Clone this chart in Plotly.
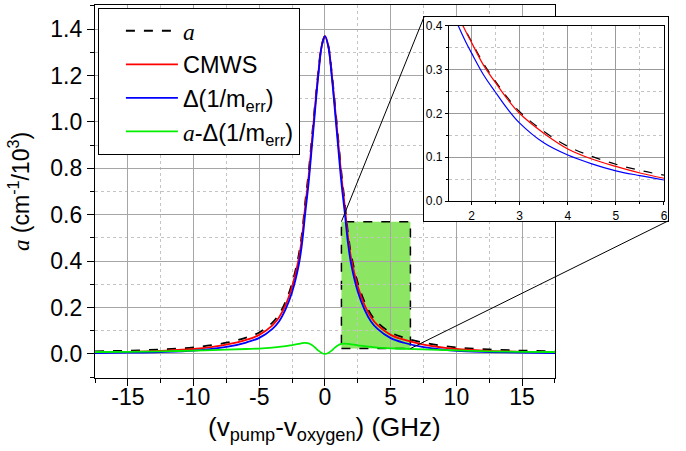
import plotly.graph_objects as go

# ---------------- data ----------------
x_main = [-17.5, -15, -12.5, -10, -7.5, -6, -5, -4, -3.5, -3, -2.5, -2, -1.75, -1.5, -1.25, -1,
          -0.75, -0.5, -0.25, 0, 0.25, 0.5, 0.75, 1, 1.25, 1.5, 1.75, 2, 2.5, 3, 3.5, 4, 5, 6,
          7.5, 10, 12.5, 15, 17.5]
alpha_main = [0.011, 0.014, 0.019, 0.028, 0.048, 0.070, 0.092, 0.135, 0.170, 0.225, 0.305, 0.425,
              0.520, 0.655, 0.780, 0.930, 1.080, 1.220, 1.330, 1.370, 1.330, 1.220, 1.080, 0.930,
              0.780, 0.655, 0.520, 0.425, 0.305, 0.225, 0.170, 0.135, 0.092, 0.070, 0.048, 0.028,
              0.019, 0.014, 0.011]
cmws_main = [0.007, 0.009, 0.013, 0.021, 0.040, 0.060, 0.082, 0.123, 0.157, 0.210, 0.290, 0.408,
             0.502, 0.637, 0.762, 0.915, 1.070, 1.215, 1.328, 1.370, 1.328, 1.215, 1.070, 0.916,
             0.764, 0.639, 0.504, 0.409, 0.290, 0.211, 0.158, 0.124, 0.082, 0.061, 0.040, 0.021,
             0.013, 0.009, 0.007]
delta_main = [0.003, 0.005, 0.008, 0.014, 0.030, 0.049, 0.069, 0.108, 0.140, 0.192, 0.267, 0.382,
              0.474, 0.608, 0.735, 0.892, 1.053, 1.206, 1.326, 1.370, 1.326, 1.206, 1.053, 0.893,
              0.737, 0.611, 0.477, 0.384, 0.268, 0.192, 0.140, 0.108, 0.068, 0.048, 0.029, 0.013,
              0.008, 0.005, 0.003]
diff_main = [0.008, 0.009, 0.011, 0.014, 0.018, 0.021, 0.023, 0.027, 0.030, 0.033, 0.038, 0.043,
             0.046, 0.047, 0.045, 0.038, 0.027, 0.014, 0.004, 0.000, 0.004, 0.014, 0.027, 0.037,
             0.043, 0.044, 0.043, 0.041, 0.037, 0.033, 0.030, 0.027, 0.024, 0.022, 0.019, 0.015,
             0.011, 0.009, 0.008]

x_inset = [1.6, 1.7, 1.8, 1.9, 2.0, 2.25, 2.5, 2.75, 3.0, 3.5, 4.0, 4.5, 5.0, 5.5, 6.0]
alpha_inset = [0.458, 0.432, 0.408, 0.385, 0.364, 0.314, 0.273, 0.236, 0.204, 0.159, 0.125, 0.102,
               0.084, 0.070, 0.059]
cmws_inset = [0.454, 0.428, 0.405, 0.383, 0.362, 0.310, 0.270, 0.232, 0.200, 0.155, 0.119, 0.096,
              0.079, 0.064, 0.052]
delta_inset = [0.432, 0.406, 0.382, 0.359, 0.338, 0.288, 0.248, 0.210, 0.178, 0.133, 0.105, 0.085,
               0.069, 0.058, 0.048]

x_range = [-17.5, 17.5]
y_range = [-0.104, 1.504]
x_ticks = [-15, -10, -5, 0, 5, 10, 15]
x_tick_labels = ["-15", "-10", "-5", "0", "5", "10", "15"]
y_ticks = [0.0, 0.2, 0.4, 0.6, 0.8, 1.0, 1.2, 1.4]
inset_x_range = [1.53, 6.0]
inset_y_range = [0.0, 0.4]
zoom_box_x = [1.25, 6.5]
zoom_box_y = [0.023, 0.57]

# ---------------- layout geometry ----------------
main_xdom = [0.0, 0.7917]
main_ydom = [0.0, 1.0]
frame_xdom = [0.5663, 0.9862]
frame_ydom = [0.4209, 0.9678]
inset_xdom = [0.6093, 0.9793]
inset_ydom = [0.4745, 0.9437]

FONT = "Arial, Liberation Sans, sans-serif"
SERIF_A = '<span style="font-family:Liberation Serif, Times New Roman, serif"><i>a</i></span>'
MAJOR_GRID = "#a6a6a6"
MINOR_GRID = "#c4c4c4"


def px(xv):
    return main_xdom[0] + (xv - x_range[0]) / (x_range[1] - x_range[0]) * (main_xdom[1] - main_xdom[0])


def py(yv):
    return main_ydom[0] + (yv - y_range[0]) / (y_range[1] - y_range[0]) * (main_ydom[1] - main_ydom[0])


fig = go.Figure()

fig.add_trace(go.Scatter(x=x_main, y=alpha_main, mode="lines", name=SERIF_A,
                         line=dict(color="black", width=1.8, dash="dash", shape="spline")))
fig.add_trace(go.Scatter(x=x_main, y=cmws_main, mode="lines", name="CMWS",
                         line=dict(color="#ff0000", width=1.8, shape="spline")))
fig.add_trace(go.Scatter(x=x_main, y=delta_main, mode="lines", name="Δ(1/m<sub>err</sub>)",
                         line=dict(color="#0000ff", width=1.8, shape="spline")))
fig.add_trace(go.Scatter(x=x_main, y=diff_main, mode="lines",
                         name=SERIF_A + "-Δ(1/m<sub>err</sub>)",
                         line=dict(color="#00ee00", width=1.8, shape="spline")))

# white frame subplot for the inset
fig.add_trace(go.Scatter(x=[], y=[], xaxis="x2", yaxis="y2", showlegend=False, hoverinfo="skip"))

# inset curves
fig.add_trace(go.Scatter(x=x_inset, y=alpha_inset, mode="lines", xaxis="x3", yaxis="y3",
                         showlegend=False,
                         line=dict(color="black", width=1.2, dash="dash", shape="spline")))
fig.add_trace(go.Scatter(x=x_inset, y=cmws_inset, mode="lines", xaxis="x3", yaxis="y3",
                         showlegend=False, line=dict(color="#ff0000", width=1.2, shape="spline")))
fig.add_trace(go.Scatter(x=x_inset, y=delta_inset, mode="lines", xaxis="x3", yaxis="y3",
                         showlegend=False, line=dict(color="#0000ff", width=1.2, shape="spline")))

# highlighted zoom region
fig.add_shape(type="rect", xref="x", yref="y", x0=zoom_box_x[0], x1=zoom_box_x[1],
              y0=zoom_box_y[0], y1=zoom_box_y[1], layer="below",
              fillcolor="rgb(140,230,100)", line=dict(color="black", width=1.5, dash="dash"))
# connector lines
fig.add_shape(type="line", xref="paper", yref="paper",
              x0=px(zoom_box_x[0]), y0=py(zoom_box_y[1]), x1=frame_xdom[0], y1=frame_ydom[1],
              line=dict(color="black", width=1), layer="above")
fig.add_shape(type="line", xref="paper", yref="paper",
              x0=px(zoom_box_x[1]), y0=py(zoom_box_y[0]), x1=frame_xdom[1], y1=frame_ydom[0],
              line=dict(color="black", width=1), layer="above")

# x-axis title (placed as text below the tick labels)
fig.add_annotation(text="(v<sub>pump</sub>-v<sub>oxygen</sub>) (GHz)", xref="paper", yref="paper",
                   x=px(0), y=-0.085, xanchor="center", yanchor="top", showarrow=False,
                   font=dict(size=26, family=FONT, color="black"))

fig.update_layout(
    width=686, height=451,
    margin=dict(l=95, r=10, t=5, b=73, autoexpand=False),
    paper_bgcolor="white", plot_bgcolor="white",
    font=dict(family=FONT, color="black"),
    showlegend=True,
    legend=dict(x=0.005, y=0.992, xanchor="left", yanchor="top",
                bgcolor="white", bordercolor="black", borderwidth=1,
                font=dict(size=23.5, family=FONT, color="black"),
                tracegroupgap=0, itemwidth=52, indentation=22),
    xaxis=dict(domain=main_xdom, range=x_range, tickvals=x_ticks, ticktext=x_tick_labels,
               anchor="y", automargin=False, ticklabelstandoff=-9,
               showline=True, mirror=True, linecolor="black", linewidth=1.3,
               ticks="outside", ticklen=7, tickwidth=1.3, tickcolor="black",
               showgrid=True, gridcolor=MAJOR_GRID, gridwidth=1.2, zeroline=False,
               tickfont=dict(size=23),
               minor=dict(dtick=2.5, tick0=0, ticks="outside", ticklen=4, tickwidth=1.3,
                          tickcolor="black", showgrid=True, gridcolor=MINOR_GRID,
                          griddash="dot", gridwidth=1)),
    yaxis=dict(domain=main_ydom, range=y_range, tickvals=y_ticks, tickformat=".1f", anchor="x",
               automargin=False,
               showline=True, mirror=True, linecolor="black", linewidth=1.3,
               ticks="outside", ticklen=7, tickwidth=1.3, tickcolor="black",
               showgrid=True, gridcolor=MAJOR_GRID, gridwidth=1.2, zeroline=False,
               tickfont=dict(size=23),
               minor=dict(dtick=0.1, tick0=0, ticks="outside", ticklen=4, tickwidth=1.3,
                          tickcolor="black", showgrid=True, gridcolor=MINOR_GRID,
                          griddash="dot", gridwidth=1),
               title=dict(text=SERIF_A + " (cm<sup>-1</sup>/10<sup>3</sup>)",
                          font=dict(size=23), standoff=14)),
    xaxis2=dict(domain=frame_xdom, range=[0, 1], anchor="y2", showline=True, mirror=True,
                linecolor="black", linewidth=1.3, showgrid=False, zeroline=False, automargin=False,
                showticklabels=False, ticks="", fixedrange=True),
    yaxis2=dict(domain=frame_ydom, range=[0, 1], anchor="x2", showline=True, mirror=True,
                linecolor="black", linewidth=1.3, showgrid=False, zeroline=False, automargin=False,
                showticklabels=False, ticks="", fixedrange=True),
    xaxis3=dict(domain=inset_xdom, range=inset_x_range, anchor="y3", dtick=1, tick0=0,
                automargin=False,
                showline=True, mirror=True, linecolor="black", linewidth=1.2,
                ticks="outside", ticklen=3, tickwidth=1, tickcolor="black",
                showgrid=True, gridcolor="#9a9a9a", gridwidth=1, zeroline=False,
                tickfont=dict(size=12),
                minor=dict(dtick=0.5, ticks="outside", ticklen=2, tickcolor="black",
                           showgrid=True, gridcolor=MINOR_GRID, griddash="dot")),
    yaxis3=dict(domain=inset_ydom, range=inset_y_range, anchor="x3", dtick=0.1, tick0=0,
                tickformat=".1f", automargin=False,
                showline=True, mirror=True, linecolor="black", linewidth=1.2,
                ticks="outside", ticklen=3, tickwidth=1, tickcolor="black",
                showgrid=True, gridcolor="#9a9a9a", gridwidth=1, zeroline=False,
                tickfont=dict(size=12),
                minor=dict(dtick=0.05, ticks="outside", ticklen=2, tickcolor="black",
                           showgrid=True, gridcolor=MINOR_GRID, griddash="dot")),
)

fig.write_html("out.html", config={"displayModeBar": False},
               post_script="document.body.style.margin='0';document.body.style.padding='0';")
